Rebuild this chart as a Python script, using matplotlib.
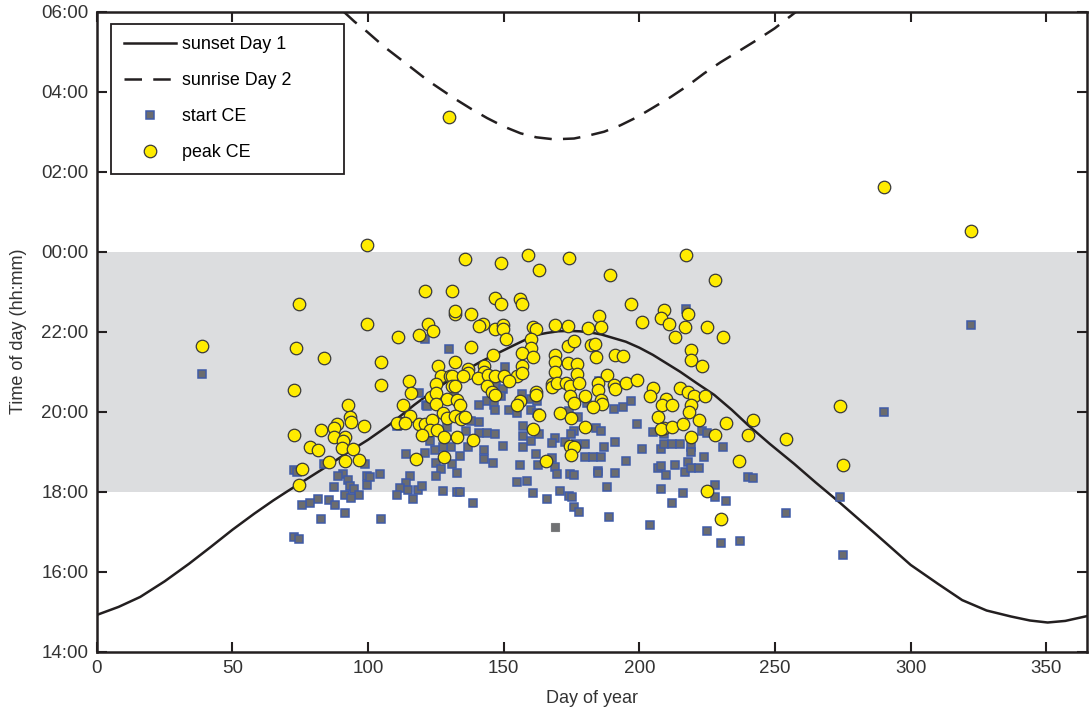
import matplotlib
matplotlib.use("Agg")
import matplotlib.pyplot as plt
from matplotlib.ticker import FuncFormatter

plt.rcParams['font.family'] = ['Liberation Sans', 'DejaVu Sans']

# sunset / sunrise curves (hours, day 2 = +24)
sunset_day = [0, 8, 16, 25, 34, 42, 50, 58, 65, 70, 77, 84, 92, 100, 108, 117, 123, 129, 135,
              141.5, 148, 154, 158, 162, 166, 170, 174, 178, 182, 186, 190, 195, 200, 205, 210,
              215, 221, 227.6, 234, 240, 248, 257, 265, 274, 287, 300, 310, 319, 328, 337, 344,
              350.5, 357, 365]
sunset_time = [14.92, 15.12, 15.37, 15.76, 16.2, 16.62, 17.05, 17.45, 17.78, 18.0, 18.3, 18.6,
               18.96, 19.3, 19.68, 20.17, 20.47, 20.75, 21.0, 21.25, 21.47, 21.67, 21.8, 21.92,
               21.97, 22.01, 22.02, 22.01, 21.98, 21.93, 21.85, 21.75, 21.6, 21.42, 21.21, 21.0,
               20.72, 20.42, 20.05, 19.67, 19.2, 18.7, 18.23, 17.72, 16.95, 16.17, 15.7, 15.29,
               15.03, 14.88, 14.78, 14.73, 14.77, 14.89]

sunrise_day = [91, 95, 99.6, 106, 113.1, 122, 131.6, 138, 143.9, 150, 156.2, 162, 168.5, 175.9,
               181, 187, 193, 199.3, 205, 211.6, 218, 223.9, 230, 236.3, 243, 249.8, 257.8]
sunrise_time = [30.0, 29.75, 29.5, 29.12, 28.75, 28.28, 27.84, 27.57, 27.34, 27.13, 26.96, 26.86,
                26.81, 26.83, 26.9, 27.0, 27.16, 27.37, 27.6, 27.87, 28.16, 28.46, 28.74, 29.0,
                29.28, 29.58, 30.0]

# (day of year, time of day in hours)
start_ce = [
    (38.7, 20.95), (322.4, 22.16), (290.2, 19.99), (274.1, 17.88), (254.0, 17.48), (275.0, 16.42),
    (72.5, 18.54), (73.8, 18.49), (83.6, 18.69), (98.7, 18.69), (90.6, 18.45), (88.8, 18.39),
    (92.7, 18.29), (99.6, 18.39), (104.5, 18.44), (87.6, 18.13), (93.5, 18.15), (94.7, 18.08),
    (99.6, 18.17), (91.4, 17.93), (96.8, 17.92), (93.6, 17.84), (81.5, 17.82), (78.7, 17.71),
    (75.6, 17.68), (85.7, 17.79), (87.7, 17.67), (91.6, 17.48), (82.6, 17.33), (104.9, 17.32),
    (72.5, 16.88), (74.6, 16.82), (120.8, 21.81), (129.8, 21.56), (118.9, 20.47), (150.6, 21.13),
    (147.1, 20.65), (149.9, 20.57), (148.9, 20.40), (156.9, 20.44), (159.9, 20.32), (162.4, 20.27),
    (143.9, 20.27), (140.8, 20.17), (146.4, 20.17), (121.2, 20.17), (131.6, 20.48), (146.8, 20.04),
    (151.9, 20.04), (154.8, 19.96), (159.9, 20.05), (162.2, 19.96), (121.8, 20.15), (110.7, 19.65),
    (140.8, 19.74), (137.8, 19.77), (128.9, 19.61), (135.9, 19.52), (140.8, 19.46), (143.9, 19.48),
    (146.9, 19.44), (157.0, 19.65), (157.0, 19.40), (159.9, 19.28), (163.1, 19.45), (168.9, 19.35),
    (167.9, 19.23), (172.7, 19.25), (122.7, 19.27), (149.9, 19.14), (157.0, 19.11), (142.9, 19.04),
    (136.8, 19.12), (130.4, 19.12), (127.7, 19.12), (124.6, 19.04), (120.9, 18.96), (113.9, 18.94),
    (133.8, 18.90), (142.9, 18.83), (145.9, 18.73), (161.8, 18.94), (167.9, 18.85), (124.9, 18.73),
    (131.0, 18.69), (126.7, 18.58), (132.6, 18.48), (156.0, 18.68), (162.8, 18.67), (168.9, 18.62),
    (169.8, 18.44), (174.4, 18.44), (100.8, 18.36), (115.6, 18.39), (124.9, 18.39), (113.8, 18.22),
    (111.7, 18.10), (114.6, 18.04), (118.5, 18.05), (119.7, 18.14), (110.7, 17.92), (116.6, 17.82),
    (127.7, 18.03), (132.9, 17.99), (133.8, 18.00), (154.8, 18.24), (158.7, 18.28), (160.7, 17.98),
    (165.8, 17.83), (170.8, 18.03), (174.0, 17.89), (138.8, 17.71), (217.2, 22.58), (185.2, 20.78),
    (196.9, 20.26), (180.6, 20.22), (193.8, 20.11), (190.7, 20.07), (199.1, 19.69), (205.2, 19.49),
    (209.2, 19.44), (223.0, 19.52), (224.9, 19.48), (184.0, 19.59), (185.9, 19.53), (175.9, 19.52),
    (174.1, 20.03), (177.2, 19.86), (174.7, 19.44), (176.7, 19.20), (180.0, 19.20), (187.0, 19.13),
    (190.9, 19.25), (200.9, 19.08), (207.9, 19.08), (208.9, 19.19), (212.0, 19.19), (215.1, 19.19),
    (219.0, 19.11), (219.0, 18.99), (230.9, 19.11), (223.9, 18.88), (179.9, 18.88), (182.9, 18.88),
    (185.9, 18.88), (194.9, 18.78), (213.0, 18.68), (218.0, 18.75), (206.9, 18.59), (207.9, 18.65),
    (209.9, 18.43), (216.9, 18.49), (219.0, 18.59), (221.9, 18.59), (184.9, 18.53), (184.9, 18.47),
    (190.9, 18.47), (175.9, 18.43), (187.9, 18.13), (207.9, 18.07), (216.0, 17.98), (227.9, 18.18),
    (227.9, 17.88), (231.8, 17.78), (240.0, 18.38), (242.0, 18.34), (175.0, 17.88), (175.9, 17.63),
    (177.9, 17.50), (188.8, 17.37), (212.0, 17.73), (203.9, 17.17), (224.9, 17.02), (230.0, 16.72),
    (237.0, 16.77),
]
start_ce_plain = [(168.8, 17.13)]  # the one square drawn without blue edge

peak_ce = [
    (129.7, 27.36), (99.6, 24.18), (290.2, 25.62), (322.4, 24.53), (38.6, 21.64), (74.6, 22.69),
    (73.5, 21.59), (83.6, 21.34), (72.5, 20.54), (92.7, 20.18), (93.5, 19.86), (93.7, 19.75),
    (88.6, 19.69), (87.6, 19.59), (98.6, 19.64), (82.8, 19.54), (72.7, 19.42), (87.6, 19.37),
    (91.6, 19.37), (90.8, 19.26), (90.5, 19.09), (94.6, 19.07), (78.6, 19.11), (81.6, 19.05),
    (85.7, 18.74), (91.6, 18.78), (96.8, 18.79), (75.6, 18.58), (74.5, 18.18), (104.9, 21.25),
    (104.7, 20.66), (99.6, 22.20), (135.8, 23.81), (148.9, 23.71), (158.8, 23.92), (162.9, 23.55),
    (173.9, 23.85), (120.8, 23.01), (130.8, 23.01), (146.8, 22.85), (148.9, 22.70), (155.9, 22.83),
    (156.9, 22.70), (132.0, 22.45), (132.0, 22.51), (137.8, 22.44), (122.0, 22.20), (123.9, 22.01),
    (118.9, 21.91), (110.9, 21.86), (142.2, 22.20), (140.8, 22.15), (146.6, 22.06), (149.9, 22.16),
    (149.9, 22.08), (160.8, 22.11), (161.9, 22.06), (168.9, 22.16), (173.5, 22.15), (151.0, 21.81),
    (159.9, 21.81), (137.8, 21.62), (159.9, 21.60), (145.9, 21.43), (156.7, 21.47), (160.9, 21.37),
    (168.9, 21.43), (173.5, 21.65), (168.9, 21.25), (168.9, 21.00), (173.5, 21.23), (131.9, 21.25),
    (125.8, 21.15), (142.7, 21.15), (156.9, 21.15), (136.8, 21.06), (136.8, 20.98), (142.8, 21.00),
    (127.0, 20.90), (130.0, 20.90), (131.0, 20.90), (134.8, 20.90), (140.6, 20.85), (144.2, 20.91),
    (146.8, 20.90), (150.0, 20.90), (154.8, 20.90), (156.9, 20.98), (151.9, 20.78), (114.9, 20.78),
    (124.9, 20.69), (130.8, 20.65), (131.9, 20.65), (143.9, 20.65), (145.8, 20.50), (146.6, 20.42),
    (115.9, 20.47), (123.0, 20.38), (125.1, 20.47), (128.9, 20.33), (132.6, 20.29), (133.8, 20.17),
    (124.9, 20.19), (112.7, 20.17), (161.8, 20.50), (161.8, 20.42), (155.9, 20.26), (154.7, 20.17),
    (167.9, 20.69), (167.9, 20.61), (169.8, 20.73), (172.9, 20.73), (174.4, 20.65), (174.4, 20.40),
    (115.6, 19.89), (111.9, 19.73), (110.5, 19.73), (113.7, 19.73), (118.7, 19.69), (120.9, 19.69),
    (123.6, 19.79), (127.7, 19.96), (128.9, 19.84), (131.9, 19.89), (134.1, 19.83), (135.8, 19.87),
    (122.7, 19.54), (125.5, 19.54), (119.7, 19.42), (127.8, 19.37), (132.6, 19.37), (138.8, 19.30),
    (117.7, 18.81), (127.8, 18.87), (162.9, 19.92), (170.8, 19.98), (160.8, 19.58), (165.7, 18.78),
    (174.3, 19.15), (217.1, 23.91), (189.0, 23.41), (227.9, 23.30), (196.9, 22.70), (209.2, 22.54),
    (207.9, 22.35), (211.0, 22.20), (218.0, 22.45), (200.9, 22.25), (185.0, 22.40), (186.0, 22.11),
    (181.0, 22.09), (216.9, 22.11), (224.9, 22.11), (230.9, 21.86), (213.0, 21.86), (175.9, 21.78),
    (182.0, 21.66), (183.8, 21.69), (183.9, 21.37), (190.9, 21.43), (193.9, 21.40), (219.0, 21.54),
    (219.0, 21.29), (223.0, 21.15), (176.9, 21.19), (176.9, 20.94), (188.0, 20.93), (177.9, 20.73),
    (184.9, 20.71), (184.9, 20.55), (190.7, 20.67), (190.9, 20.57), (195.0, 20.73), (199.1, 20.80),
    (205.1, 20.59), (203.9, 20.40), (215.0, 20.59), (218.0, 20.50), (220.2, 20.40), (224.2, 20.40),
    (175.9, 20.23), (179.9, 20.40), (185.8, 20.29), (186.4, 20.19), (182.9, 20.11), (209.9, 20.32),
    (208.2, 20.17), (212.0, 20.17), (219.0, 20.17), (218.2, 20.00), (206.9, 19.88), (209.2, 19.59),
    (207.9, 19.57), (212.0, 19.63), (216.0, 19.69), (221.9, 19.79), (219.0, 19.37), (227.9, 19.42),
    (231.8, 19.73), (242.0, 19.79), (240.0, 19.42), (236.9, 18.78), (174.8, 19.84), (179.9, 19.63),
    (175.8, 19.12), (174.8, 18.93), (224.9, 18.02), (230.0, 17.33), (273.9, 20.14), (254.0, 19.32),
    (275.0, 18.68),
]

ink = '#231f20'
txt = '#333333'

fig = plt.figure(figsize=(10.92, 7.10), dpi=100)
ax = fig.add_axes([0.0887, 0.0821, 0.9067, 0.9014])

# night band 18:00 - 00:00
ax.axhspan(18, 24, color='#dcdddf', lw=0, zorder=0)

ax.plot(sunset_day, sunset_time, color=ink, lw=1.8, label='sunset Day 1', zorder=2)
ax.plot(sunrise_day, sunrise_time, color=ink, lw=1.8, dashes=(7, 4.5), label='sunrise Day 2',
        zorder=2)

sd, st = zip(*start_ce)
ax.plot(sd, st, 's', ms=6.3, mfc='#6b6c6e', mec='#3f5ba8', mew=1.1, label='start CE', zorder=3)
pd_, pt_ = zip(*start_ce_plain)
ax.plot(pd_, pt_, 's', ms=6.3, mfc='#707173', mec='#7a7b7d', mew=0.8, zorder=3)

kd, kt = zip(*peak_ce)
ax.plot(kd, kt, 'o', ms=9, mfc='#ffec00', mec='#3a3a3a', mew=0.9, label='peak CE', zorder=4)

ax.set_xlim(0, 365)
ax.set_ylim(14, 30)
ax.set_xticks(range(0, 351, 50))
ax.set_yticks(range(14, 31, 2))
ax.yaxis.set_major_formatter(FuncFormatter(lambda v, p: '%02d:00' % (int(round(v)) % 24)))

ax.tick_params(direction='in', length=7, width=1.5, top=True, right=True,
               labelsize=13.5, labelcolor=txt, color=ink, pad=6)
for s in ax.spines.values():
    s.set_linewidth(1.8)
    s.set_color(ink)

ax.set_xlabel('Day of year', fontsize=13, color=txt, labelpad=9)
ax.set_ylabel('Time of day (hh:mm)', fontsize=13, color=txt, labelpad=10)

leg = ax.legend(loc='upper left', bbox_to_anchor=(0.01424, 0.5, 0.2354, 0.4815), mode='expand',
                borderaxespad=0, fancybox=False, framealpha=1, edgecolor=ink, fontsize=12.9,
                handlelength=2.9, handletextpad=0.35, labelspacing=1.05, borderpad=0.72)
leg.get_frame().set_linewidth(1.3)

fig.savefig('out.png', dpi=100)
